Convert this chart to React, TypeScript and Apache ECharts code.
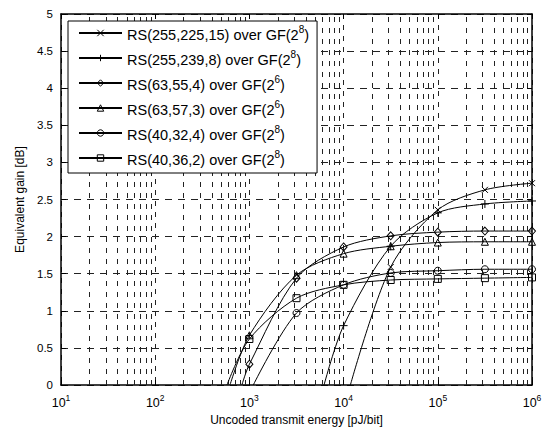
import React, { useEffect, useRef } from "react";
import * as echarts from "echarts";

const seriesNames = [
  "RS(255,225,15) over GF(2^8)",
  "RS(255,239,8) over GF(2^8)",
  "RS(63,55,4) over GF(2^6)",
  "RS(63,57,3) over GF(2^6)",
  "RS(40,32,4) over GF(2^8)",
  "RS(40,36,2) over GF(2^8)",
];

// energy [pJ/bit] at which each curve leaves 0 dB
const zeroCrossings = [11800, 6200, 832, 622, 1100, 578];
// energies where the markers sit
const markerEnergies = [1000, 3162, 10000, 31623, 100000, 316228, 1000000];
// gains [dB] at the marker energies (null = below the axis)
const gainRS255_225 = [null, null, null, 1.59, 2.36, 2.63, 2.72];
const gainRS255_239 = [null, null, 0.8, 1.87, 2.32, 2.44, 2.48];
const gainRS63_55 = [0.28, 1.44, 1.86, 2.01, 2.06, 2.075, 2.075];
const gainRS63_57 = [0.67, 1.48, 1.77, 1.87, 1.92, 1.93, 1.93];
const gainRS40_32 = [null, 0.97, 1.35, 1.51, 1.54, 1.56, 1.56];
const gainRS40_36 = [0.62, 1.17, 1.35, 1.415, 1.43, 1.44, 1.45];

const gains = [gainRS255_225, gainRS255_239, gainRS63_55, gainRS63_57, gainRS40_32, gainRS40_36];

const minorDecades = [10, 100, 1000, 10000, 100000];
const minorMultipliers = [2, 3, 4, 5, 6, 7, 8, 9];

const yTicks = ["0", "0.5", "1", "1.5", "2", "2.5", "3", "3.5", "4", "4.5", "5"];

const FONT = "'Liberation Sans', Arial, Helvetica, sans-serif";

const symbols: any[] = [
  "path://M0,0L10,10M10,0L0,10",
  "path://M5,0L5,10M0,5L10,5",
  "diamond",
  "triangle",
  "circle",
  "rect",
];
const symbolSizes: any[] = [6, 8, [7, 8], 7, 7, 7];

export default function App() {
  const ref = useRef<HTMLDivElement>(null);
  useEffect(() => {
    if (!ref.current) return;
    const chart = echarts.init(ref.current, undefined, { renderer: "svg" });

    const vGridLine = { color: "#222", width: 1, type: [5, 6] as any };
    const hGridLine = { color: "#222", width: 1, type: [7, 6] as any };

    const series: any[] = seriesNames.map((name, si) => {
      const data: any[] = [{ value: [zeroCrossings[si], 0], symbol: "none" }];
      markerEnergies.forEach((e, i) => {
        const g = gains[si][i];
        if (g !== null) data.push([e, g]);
      });
      const s: any = {
        name,
        type: "line",
        data,
        smooth: 0.3,
        symbol: symbols[si],
        symbolSize: symbolSizes[si],
        symbolKeepAspect: true,
        showAllSymbol: true,
        lineStyle: { color: "#000", width: 1 },
        itemStyle: { color: "transparent", borderColor: "#000", borderWidth: 1 },
        emphasis: { disabled: true },
        z: 3,
      };
      return s;
    });

    const minorXs: number[] = [];
    minorDecades.forEach((d) => minorMultipliers.forEach((m) => minorXs.push(m * d)));
    series[0].markLine = {
      silent: true,
      symbol: "none",
      label: { show: false },
      lineStyle: vGridLine,
      emphasis: { disabled: true },
      z: 1,
      data: minorXs.map((v) => ({ xAxis: v })),
    };

    const fmtName = (name: string) => {
      const m = name.match(/^(.*)\^(\d)(.*)$/);
      if (!m) return `{b|${name}}`;
      return `{b|${m[1]}}{sup|${m[2]}}{b|${m[3]}}`;
    };

    chart.setOption({
      animation: false,
      backgroundColor: "#fff",
      textStyle: { fontFamily: FONT },
      grid: { left: 61, right: 15, top: 14, bottom: 46, containLabel: false },
      legend: {
        orient: "vertical",
        left: 68,
        top: 21,
        z: 50,
        zlevel: 0,
        padding: [3, 8, 6, 10],
        itemGap: 7,
        itemWidth: 43,
        itemHeight: 8,
        selectedMode: false,
        backgroundColor: "#fff",
        borderColor: "#000",
        borderWidth: 1,
        borderRadius: 0,
        data: seriesNames,
        formatter: fmtName,
        itemStyle: { color: "transparent", borderColor: "#000", borderWidth: 1 },
        textStyle: {
          fontFamily: FONT,
          color: "#000",
          rich: {
            b: { fontSize: 14.5, lineHeight: 18, verticalAlign: "bottom", fontFamily: FONT, color: "#000" },
            sup: { fontSize: 10, lineHeight: 8, verticalAlign: "top", fontFamily: FONT, color: "#000" },
          },
        },
      },
      xAxis: [
        {
          type: "log",
          logBase: 10,
          min: 10,
          max: 1000000,
          position: "bottom",
          name: "Uncoded transmit energy [pJ/bit]",
          nameLocation: "middle",
          nameGap: 26,
          nameTextStyle: { fontSize: 12, color: "#000", fontFamily: FONT },
          axisLine: { show: true, onZero: false, lineStyle: { color: "#000", width: 1.5 } },
          axisTick: { show: true, inside: true, length: 5, lineStyle: { color: "#000" } },
          axisLabel: {
            margin: 8,
            color: "#000",
            formatter: (v: number) => `{b|10}{sup|${Math.round(Math.log10(v))}}`,
            rich: {
              b: { fontSize: 12.5, lineHeight: 16, verticalAlign: "bottom", fontFamily: FONT, color: "#000" },
              sup: { fontSize: 8.5, lineHeight: 8, verticalAlign: "top", fontFamily: FONT, color: "#000" },
            },
          },
          splitLine: { show: true, lineStyle: vGridLine },
        },
        {
          type: "log",
          logBase: 10,
          min: 10,
          max: 1000000,
          position: "top",
          axisLine: { show: true, onZero: false, lineStyle: { color: "#000", width: 1.5 } },
          axisTick: { show: true, inside: true, length: 5, lineStyle: { color: "#000" } },
          axisLabel: { show: false },
          splitLine: { show: false },
        },
      ],
      yAxis: [
        {
          type: "value",
          min: 0,
          max: 5,
          interval: 0.5,
          position: "left",
          name: "Equivalent gain [dB]",
          nameLocation: "middle",
          nameGap: 32,
          nameTextStyle: { fontSize: 12, color: "#000", fontFamily: FONT },
          axisLine: { show: true, onZero: false, lineStyle: { color: "#000", width: 1.5 } },
          axisTick: { show: true, inside: true, length: 5, lineStyle: { color: "#000" } },
          axisLabel: {
            fontSize: 11.5,
            color: "#000",
            margin: 8,
            formatter: (v: number) => yTicks[Math.round(v * 2)] ?? String(v),
          },
          splitLine: { show: true, lineStyle: hGridLine },
        },
        {
          type: "value",
          min: 0,
          max: 5,
          interval: 0.5,
          position: "right",
          axisLine: { show: true, onZero: false, lineStyle: { color: "#000", width: 1.5 } },
          axisTick: { show: true, inside: true, length: 5, lineStyle: { color: "#000" } },
          axisLabel: { show: false },
          splitLine: { show: false },
        },
      ],
      series,
    });

    return () => chart.dispose();
  }, []);

  return (
    <div
      ref={ref}
      style={{ position: "fixed", left: 0, top: 0, width: 547, height: 431, background: "#fff" }}
    />
  );
}
